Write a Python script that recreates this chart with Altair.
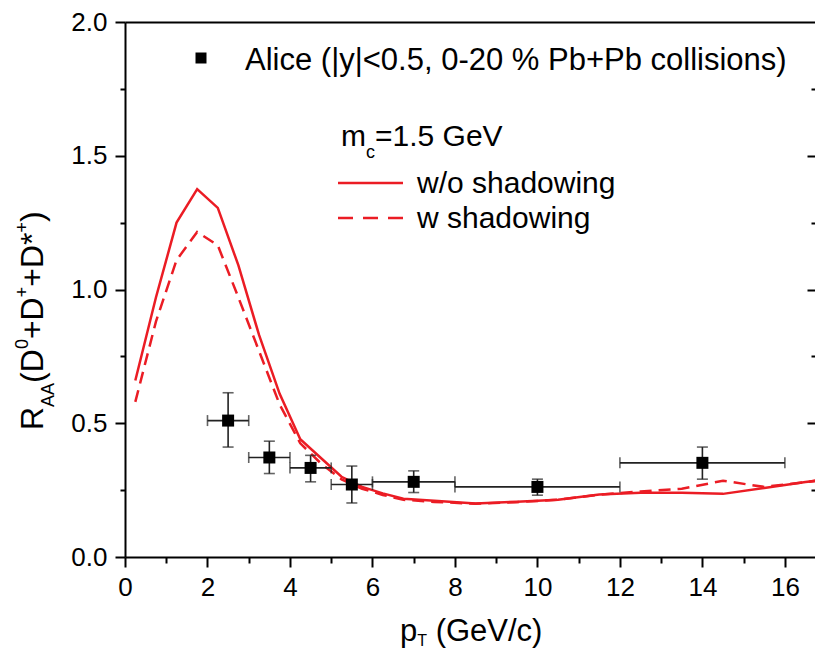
import altair as alt
import pandas as pd

# ---------------- data ----------------
pt_theory = [0.25, 0.75, 1.25, 1.75, 2.25, 2.75, 3.25, 3.75, 4.25, 4.75, 5.25, 5.75,
             6.25, 6.75, 7.5, 8.5, 9.5, 10.5, 11.5, 12.5, 13.5, 14.5, 15.5, 16.5, 17.0]
raa_wo_shadowing = [0.66, 0.97, 1.25, 1.375, 1.305, 1.09, 0.83, 0.61, 0.44, 0.37, 0.30, 0.262,
                    0.238, 0.218, 0.21, 0.20, 0.207, 0.214, 0.234, 0.24, 0.24, 0.236, 0.258, 0.28, 0.29]
raa_w_shadowing = [0.58, 0.88, 1.11, 1.215, 1.165, 0.97, 0.77, 0.57, 0.425, 0.35, 0.29, 0.255,
                   0.232, 0.214, 0.206, 0.199, 0.205, 0.214, 0.233, 0.245, 0.255, 0.285, 0.262, 0.28, 0.29]

alice_pt = [2.5, 3.5, 4.5, 5.5, 7.0, 10.0, 14.0]
alice_pt_lo = [2, 3, 4, 5, 6, 8, 12]
alice_pt_hi = [3, 4, 5, 6, 8, 12, 16]
alice_raa = [0.51, 0.372, 0.333, 0.271, 0.281, 0.262, 0.352]
alice_raa_lo = [0.411, 0.312, 0.281, 0.202, 0.241, 0.231, 0.291]
alice_raa_hi = [0.614, 0.433, 0.38, 0.34, 0.322, 0.291, 0.411]

x_major = [0, 2, 4, 6, 8, 10, 12, 14, 16]
x_minor = [1, 3, 5, 7, 9, 11, 13, 15]
y_major = [0.0, 0.5, 1.0, 1.5, 2.0]
y_minor = [0.25, 0.75, 1.25, 1.75]

# ---------------- tables ----------------
theory = pd.DataFrame({"pt": pt_theory, "wo": raa_wo_shadowing, "w": raa_w_shadowing})
alice = pd.DataFrame({"pt": alice_pt, "lo": alice_pt_lo, "hi": alice_pt_hi,
                      "raa": alice_raa, "rlo": alice_raa_lo, "rhi": alice_raa_hi})
caps_y = pd.DataFrame({"pt": alice_pt * 2, "cap": alice_raa_lo + alice_raa_hi})
caps_x = pd.DataFrame({"pt": alice_pt_lo + alice_pt_hi, "raa": alice_raa * 2})
one = pd.DataFrame({"k": [0]})

# ---------------- layout ----------------
W, H = 697, 535
RED = "#eb1c24"
FONT = "Liberation Sans"
XS = alt.Scale(domain=[0, 16.9], nice=False, zero=False)
YS = alt.Scale(domain=[0, 2], nice=False, zero=False)

ARIAL = {'R': 722, 'A': 667, '(': 333, ')': 333, 'D': 722, '0': 556, '+': 584, '*': 389,
         'p': 556, 'T': 611, ' ': 278, 'G': 778, 'e': 556, 'V': 667, '/': 278, 'c': 500,
         'm': 833, '=': 584, '1': 556, '.': 278, '5': 556}


def tw(s, size):
    return sum(ARIAL.get(ch, 556) for ch in s) * size / 1000.0


def txt(s, x, y, size, angle=0, align="left", baseline="alphabetic"):
    return alt.Chart(one).mark_text(
        font=FONT, fontSize=size, angle=angle, align=align, baseline=baseline, color="black"
    ).encode(x=alt.value(x), y=alt.value(y), text=alt.value(s))


# ---------------- data layers with axes ----------------
solid = alt.Chart(theory).mark_line(color=RED, strokeWidth=2.5, clip=True).encode(
    x=alt.X("pt:Q", scale=XS, axis=alt.Axis(orient="bottom", values=x_major, title=None,
                                            tickSize=10, labelPadding=7, labelFlush=False,
                                            labelOverlap=False)),
    y=alt.Y("wo:Q", scale=YS, axis=alt.Axis(orient="left", values=y_major, format=".1f",
                                            title=None, tickSize=10, labelPadding=8,
                                            labelOverlap=False, labelFlush=False)),
)
dashed = alt.Chart(theory).mark_line(color=RED, strokeWidth=2.5, strokeDash=[12, 7], clip=True).encode(
    x=alt.X("pt:Q", scale=XS, axis=alt.Axis(orient="bottom", values=x_minor, title=None,
                                            tickSize=6, labels=False, domain=False)),
    y=alt.Y("w:Q", scale=YS, axis=alt.Axis(orient="left", values=y_minor, title=None,
                                           tickSize=5, labels=False, domain=False)),
)
yerr = alt.Chart(alice).mark_rule(color="#222222", strokeWidth=1.6).encode(
    x=alt.X("pt:Q", scale=XS, axis=alt.Axis(orient="top", title=None, ticks=False,
                                            labels=False, domain=True)),
    y=alt.Y("rlo:Q", scale=YS, axis=alt.Axis(orient="right", values=[0.5, 1.0, 1.5],
                                             title=None, tickSize=8, offset=-15,
                                             labels=False, domain=False)),
    y2="rhi:Q",
)
xerr = alt.Chart(alice).mark_rule(color="#222222", strokeWidth=1.6).encode(
    x=alt.X("lo:Q", scale=XS, axis=None),
    x2="hi:Q",
    y=alt.Y("raa:Q", scale=YS, axis=alt.Axis(orient="right", values=y_minor, title=None,
                                             tickSize=4, offset=-11, labels=False,
                                             domain=False)),
)
ycaps = alt.Chart(caps_y).mark_tick(color="#222222", orient="horizontal", size=11,
                                    thickness=1.6).encode(
    x=alt.X("pt:Q", scale=XS, axis=None),
    y=alt.Y("cap:Q", scale=YS, axis=None),
)
xcaps = alt.Chart(caps_x).mark_tick(color="#222222", orient="vertical", size=11,
                                    thickness=1.6).encode(
    x=alt.X("pt:Q", scale=XS, axis=None),
    y=alt.Y("raa:Q", scale=YS, axis=None),
)
points = alt.Chart(alice).mark_square(color="black", size=144, opacity=1).encode(
    x=alt.X("pt:Q", scale=XS, axis=None),
    y=alt.Y("raa:Q", scale=YS, axis=None),
)

# ---------------- legend (inside plot) ----------------
leg = [
    alt.Chart(one).mark_square(color="black", size=121, opacity=1).encode(
        x=alt.value(76), y=alt.value(36)),
    txt("Alice (|y|<0.5, 0-20 % Pb+Pb collisions)", 120, 48, 31),
]
mx = 216
leg.append(txt("m", mx, 124, 30))
mx += tw("m", 30)
leg.append(txt("c", mx, 136, 18))
mx += tw("c", 18)
leg.append(txt("=1.5 GeV", mx, 124, 30))
leg.append(alt.Chart(one).mark_rule(color=RED, strokeWidth=2.5).encode(
    x=alt.value(213), x2=alt.value(278), y=alt.value(161)))
leg.append(txt("w/o shadowing", 292, 171, 30))
leg.append(alt.Chart(one).mark_rule(color=RED, strokeWidth=2.5, strokeDash=[15, 10]).encode(
    x=alt.value(213), x2=alt.value(278), y=alt.value(196)))
leg.append(txt("w shadowing", 292, 206, 30))

# ---------------- axis titles with sub/superscripts ----------------
titles = []
MAIN, SMALL = 32, 18
base_x = -82
cur_y = 408.0
for s, kind in [("R", 0), ("AA", -1), ("(D", 0), ("0", 1), ("+D", 0), ("+", 1),
                ("+D*", 0), ("+", 1), (")", 0)]:
    size = MAIN if kind == 0 else SMALL
    shift = 0 if kind == 0 else (11 if kind == -1 else -15)
    titles.append(txt(s, base_x + shift, cur_y, size, angle=270))
    cur_y -= tw(s, size)

cx = 275.0
titles.append(txt("p", cx, 619, 31))
cx += tw("p", 31)
titles.append(txt("T", cx, 624, 16))
cx += tw("T", 16) + tw(" ", 31)
titles.append(txt("(GeV/c)", cx, 619, 31))

chart = alt.layer(
    solid, dashed, yerr, xerr, ycaps, xcaps, points, *leg, *titles
).resolve_axis(
    x="independent", y="independent"
).properties(
    width=W, height=H,
    autosize=alt.AutoSizeParams(type="none"),
    padding={"left": 117, "top": 14, "right": -7, "bottom": 92},
).configure_view(
    stroke=None
).configure_axis(
    grid=False, labelFont=FONT, labelFontSize=26, labelColor="black",
    domainColor="black", tickColor="black", domainWidth=2, tickWidth=2,
)

chart.save("out.html", embed_options={"renderer": "svg", "actions": False})
